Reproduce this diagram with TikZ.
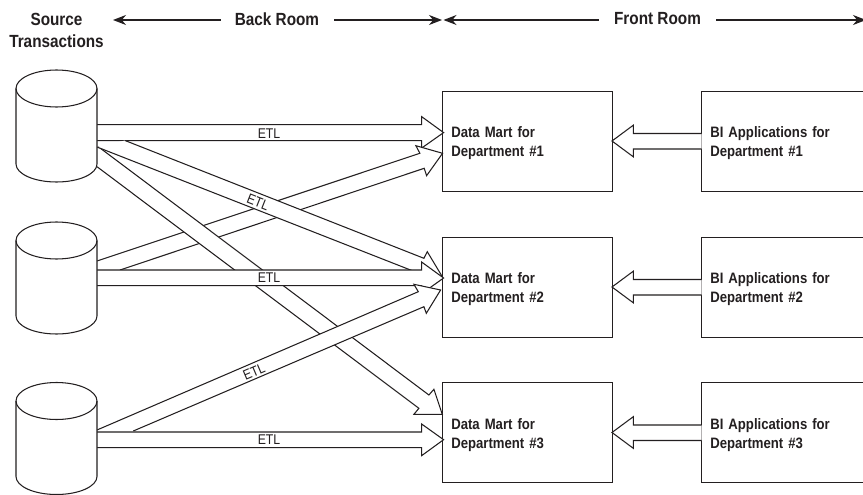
\documentclass[tikz,border=0pt]{standalone}
\usepackage{fontspec}
\setmainfont{Liberation Sans}[FakeStretch=0.87]
\usetikzlibrary{arrows.meta,calc}
\definecolor{ink}{HTML}{231F20}
\tikzset{
  blockarrow/.style={draw=ink,fill=white,line width=1.05pt,line join=miter},
  db/.style={minimum width=81pt,minimum height=112pt,inner sep=0pt,outer sep=0pt},
  dbline/.style={draw=ink,fill=white,line width=1.05pt},
  martbox/.style={draw=ink,fill=white,line width=0.9pt,minimum height=100pt,
    text width=152pt,inner xsep=8.7pt,inner ysep=0pt,outer sep=0pt,align=left,
    execute at begin node=\rule{0pt}{15.5pt},
    font=\bfseries\fontsize{15.1}{19}\selectfont,text=ink},
  head/.style={font=\bfseries\fontsize{17.6}{22}\selectfont,text=ink,align=center,inner sep=0pt},
  span/.style={draw=ink,line width=1.2pt,-{Stealth[length=13pt,width=10pt]}},
  etl/.style={font=\fontsize{14.1}{14}\selectfont,text=ink,inner sep=0pt}
}
\newcommand{\dbdraw}[1]{%
  \draw[dbline] ($(#1.north west)+(0,18.5)$) arc[start angle=180,end angle=0,x radius=40.5pt,y radius=18.5pt]
     -- ($(#1.south east)+(0,-18)$) arc[start angle=0,end angle=-180,x radius=40.5pt,y radius=18pt] -- cycle;
  \draw[dbline,fill=none] ($(#1.north west)+(0,18.5)$) arc[start angle=180,end angle=360,x radius=40.5pt,y radius=18.5pt];
}
\begin{document}
\begin{tikzpicture}[x=1pt,y=-1pt]
\useasboundingbox (0,0) rectangle (863,495);
\fill[white] (0,0) rectangle (863,495);
% header
\node[head] (src) at (56.5,30.5) {Source\\Transactions};
\node[head] (back) at (277,19.5) {Back Room};
\node[head] (front) at (657.5,18.5) {Front Room};
\coordinate (brl) at (113,20);
\coordinate (brr) at (442,20);
\coordinate (frl) at (443.5,20);
\coordinate (frr) at (866,20);
\draw[span] ([xshift=-14pt]back.west|-brl) -- (brl);
\draw[span] ([xshift=15pt]back.east|-brr) -- (brr);
\draw[span] ([xshift=-15pt]front.west|-frl) -- (frl);
\draw[span] ([xshift=15pt]front.east|-frr) -- (frr);
% boxes
\node[martbox] (dm1) at (527.3,141) {Data Mart for\\Department \#1};
\node[martbox] (dm2) at (527.3,287) {Data Mart for\\Department \#2};
\node[martbox] (dm3) at (527.3,432.5) {Data Mart for\\Department \#3};
\node[martbox] (bi1) at (786.3,141) {BI Applications for\\Department \#1};
\node[martbox] (bi2) at (786.3,287) {BI Applications for\\Department \#2};
\node[martbox] (bi3) at (786.3,432.5) {BI Applications for\\Department \#3};
\node[db] (c1) at (56.5,126) {};
\node[db] (c2) at (56.5,278) {};
\node[db] (c3) at (56.5,438.5) {};
% BI to data mart
\foreach \a/\b in {dm1/bi1,dm2/bi2,dm3/bi3}{
  \draw[blockarrow] ($(\b.west)+(0,-7.5)$) -- ($(\a.east)+(21.3,-7.5)$) -- ($(\a.east)+(21.3,-15.8)$)
     -- (\a.east) -- ($(\a.east)+(21.3,15.8)$) -- ($(\a.east)+(21.3,8)$) -- ($(\b.west)+(0,8)$);
}
% ETL arrows (the order gives the overlaps)
% cylinder 1 to mart 1
\coordinate (t1) at ($(dm1.west)+(1,-8.4)$);
\draw[blockarrow] ($(c1.east|-t1)+(0,-8)$) -- ($(t1)+(-22,-8)$) -- ($(t1)+(-22,-16)$) -- (t1)
   -- ($(t1)+(-22,15.5)$) -- ($(t1)+(-22,8)$) -- ($(c1.east|-t1)+(0,8)$);
% cylinder 2 to mart 1
\coordinate (t2) at ($(dm1.west)+(0,12.3)$);
\draw[blockarrow] (97,261) -- ($(t2)+(-22.7,0)$) -- ($(t2)+(-26.7,-7.6)$) -- (t2)
   -- ($(t2)+(-16,22.4)$) -- ($(t2)+(-18.4,15)$) -- (120,270);
% cylinder 1 to mart 3
\coordinate (t3) at ($(dm3.west)+(-0.3,-18.2)$);
\draw[blockarrow] (98.3,146.7) -- ($(t3)+(-13.4,-19.3)$) -- ($(t3)+(-8.4,-25)$) -- (t3)
   -- ($(t3)+(-28.4,0)$) -- ($(t3)+(-23.4,-6)$) -- (97,166.7);
% cylinder 1 to mart 2
\coordinate (t4) at ($(dm2.west)+(-0.3,-10.3)$);
\draw[blockarrow] (125,140.5) -- ($(t4)+(-18.4,-18.4)$) -- ($(t4)+(-15,-25)$) -- (t4)
   -- ($(t4)+(-31,5)$) -- ($(t4)+(-26.7,-4.7)$) -- (97,147);
% cylinder 2 to mart 2
\coordinate (t5) at ($(dm2.west)+(1,-9)$);
\draw[blockarrow] ($(c2.east|-t5)+(0,-8)$) -- ($(t5)+(-22,-8)$) -- ($(t5)+(-22,-16)$) -- (t5)
   -- ($(t5)+(-22,15.7)$) -- ($(t5)+(-22,7.7)$) -- ($(c2.east|-t5)+(0,7.7)$);
% cylinder 3 to mart 3
\coordinate (t6) at ($(dm3.west)+(1,7.2)$);
\draw[blockarrow] ($(c3.east|-t6)+(0,-7.7)$) -- ($(t6)+(-22,-7.7)$) -- ($(t6)+(-22,-15.7)$) -- (t6)
   -- ($(t6)+(-22,16)$) -- ($(t6)+(-22,8)$) -- ($(c3.east|-t6)+(0,8)$);
% cylinder 3 to mart 2
\coordinate (t7) at ($(dm2.west)+(-2,3)$);
\draw[blockarrow] (97,430) -- ($(t7)+(-22.3,1.7)$) -- ($(t7)+(-26.7,-5.7)$) -- (t7)
   -- ($(t7)+(-14.3,23.3)$) -- ($(t7)+(-16.7,16.7)$) -- (133.3,431);
% cylinders
\dbdraw{c1}
\dbdraw{c2}
\dbdraw{c3}
% labels
\node[etl] (e1) at (269,133.5) {ETL};
\node[etl] (e2) at (258,202.5) [rotate=-21.5] {ETL};
\node[etl] (e3) at (269,278) {ETL};
\node[etl] (e4) at (254,371.5) [rotate=23] {ETL};
\node[etl] (e5) at (269,440) {ETL};
\end{tikzpicture}
\end{document}
